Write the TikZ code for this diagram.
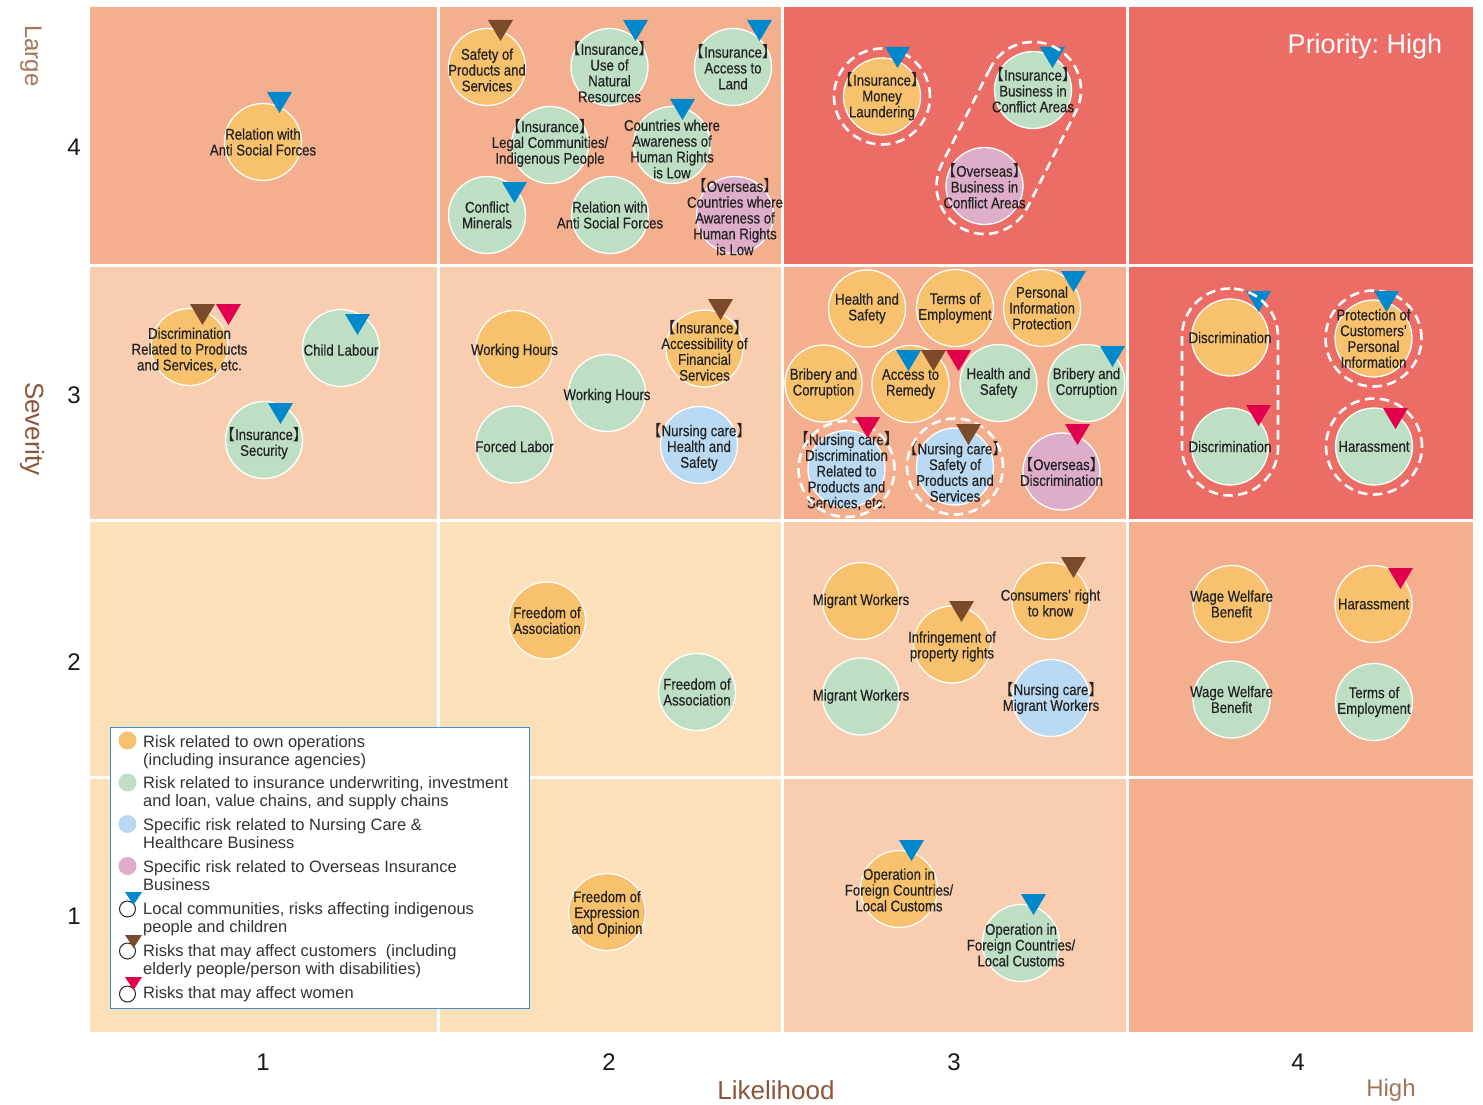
\documentclass[tikz,border=0pt]{standalone}
\usepackage{fontspec}
\usetikzlibrary{calc}
\setmainfont{Liberation Sans}
\newfontfamily\cond[FakeStretch=0.85,FakeBold=0.4]{Liberation Sans}
\newfontfamily\cjk{Noto Sans CJK JP}
\frenchspacing

% cell shades, from lightest to strongest
\definecolor{cellA}{HTML}{FBE0BA}
\definecolor{cellB}{HTML}{F8CDB0}
\definecolor{cellC}{HTML}{F4AF8F}
\definecolor{cellD}{HTML}{EB6D66}
% risk categories
\definecolor{cOwn}{HTML}{F7C16E}
\definecolor{cInv}{HTML}{BFDFC4}
\definecolor{cCare}{HTML}{BAD9F2}
\definecolor{cSea}{HTML}{DDADC9}
% affected groups
\definecolor{tBlue}{HTML}{0088CC}
\definecolor{tBrown}{HTML}{7B4A2A}
\definecolor{tRed}{HTML}{E0004D}
\definecolor{lgBorder}{HTML}{3A8FC8}
\definecolor{ink}{HTML}{222222}
\definecolor{lgink}{HTML}{333333}
\definecolor{axisBrown}{HTML}{8C5537}
\definecolor{axisLight}{HTML}{A37658}

% narrow lenticular brackets
\newcommand\lb{\makebox[0.42em][r]{\cjk 【}}
\newcommand\rb{\makebox[0.42em][l]{\cjk 】}}

% a risk bubble: [label options]{name}{style}{position}{text}
\newcommand\rk[5][]{\node[#3] (#2) at (#4) {}; \node[lbl,#1] (#2-t) at (#2.center) {#5};}
% marker triangle, given by its top-left corner
\newcommand\tri[3]{\fill[#1] (#2,#3) -- ++(25,0) -- ++(-12.5,21) -- cycle;}
\newcommand\ltri[3]{\fill[#1] (#2,#3) -- ++(17,0) -- ++(-8.5,13) -- cycle;}
\newcommand\ring[1]{\draw[ringline] (#1.center) circle[radius=48pt];}

\begin{document}
\begin{tikzpicture}[x=1pt,y=-1pt,
  risk/.style={circle, draw=white, line width=1.3pt, minimum size=77pt, inner sep=0pt},
  own/.style={risk, fill=cOwn},
  grn/.style={risk, fill=cInv},
  blu/.style={risk, fill=cCare},
  pnk/.style={risk, fill=cSea},
  lbl/.style={inner sep=0pt, align=center, text=ink, font=\cond\fontsize{15.5}{15.8}\selectfont},
  ringline/.style={draw=white, line width=2.6pt, dash pattern=on 9.5pt off 5.5pt},
  axnum/.style={font=\fontsize{24}{28}\selectfont, text=black!90},
  lgtext/.style={anchor=base west, inner sep=0pt, text=lgink, font=\fontsize{16.5}{18}\selectfont},
]
\useasboundingbox (0,0) rectangle (1483,1105);
\fill[white] (0,0) rectangle (1483,1105);

% ---- grid cells ----
% severity 4
\fill[cellC] (90,7) rectangle (437,264);
\fill[cellC] (440,7) rectangle (781,264);
\fill[cellD] (784,7) rectangle (1126,264);
\fill[cellD] (1129,7) rectangle (1473,264);
% severity 3
\fill[cellB] (90,267) rectangle (437,519);
\fill[cellB] (440,267) rectangle (781,519);
\fill[cellC] (784,267) rectangle (1126,519);
\fill[cellD] (1129,267) rectangle (1473,519);
% severity 2
\fill[cellA] (90,522) rectangle (437,776);
\fill[cellA] (440,522) rectangle (781,776);
\fill[cellB] (784,522) rectangle (1126,776);
\fill[cellC] (1129,522) rectangle (1473,776);
% severity 1
\fill[cellA] (90,779) rectangle (437,1032);
\fill[cellA] (440,779) rectangle (781,1032);
\fill[cellB] (784,779) rectangle (1126,1032);
\fill[cellC] (1129,779) rectangle (1473,1032);

\node[text=white, font=\fontsize{27}{31}\selectfont] (prio) at (1365,47) {Priority: High};

% ---- axes ----
\node[rotate=-90, text=axisLight, font=\fontsize{24}{28}\selectfont] (large) at (31,56) {Large};
\node[rotate=-90, text=axisBrown, font=\fontsize{26}{30}\selectfont] (sev) at (32,429) {Severity};
\node[axnum] (s4) at (74,147) {4};
\node[axnum] (s3) at (74,395) {3};
\node[axnum] (s2) at (74,662) {2};
\node[axnum] (s1) at (74,916) {1};
\node[axnum] (l1) at (263,1062) {1};
\node[axnum] (l2) at (609,1062) {2};
\node[axnum] (l3) at (954,1062) {3};
\node[axnum] (l4) at (1298,1062) {4};
\node[text=axisBrown, font=\fontsize{26}{30}\selectfont] (lik) at (776,1090) {Likelihood};
\node[text=axisLight, font=\fontsize{24}{28}\selectfont] (high) at (1391,1090) {High};

% ---- severity 4 ----
\rk{a1}{own}{263,142}{Relation with\\Anti Social Forces}
\tri{tBlue}{267}{92}

\rk[yshift=-3pt]{b1}{own}{487,67}{Safety of\\Products and\\Services}
\tri{tBrown}{488}{20}
\rk[yshift=-5pt]{b2}{grn}{609.5,67}{\lb Insurance\rb\\Use of\\Natural\\Resources}
\tri{tBlue}{623}{20}
\rk{b3}{grn}{733,67}{\lb Insurance\rb\\Access to\\Land}
\tri{tBlue}{747}{20}
\rk[yshift=2pt]{b4}{grn}{550,145}{\lb Insurance\rb\\Legal Communities/\\Indigenous People}
\rk[yshift=-4pt]{b5}{grn}{672,145}{Countries where\\Awareness of\\Human Rights\\is Low}
\tri{tBlue}{670}{99}
\rk{b6}{grn}{487,215}{Conflict\\Minerals}
\tri{tBlue}{502}{182}
\rk{b7}{grn}{610,215}{Relation with\\Anti Social Forces}
\rk[yshift=-2pt]{b8}{pnk}{735,215}{\lb Overseas\rb\\Countries where\\Awareness of\\Human Rights\\is Low}

\rk{c1}{own}{882,96.5}{\lb Insurance\rb\\Money\\Laundering}
\ring{c1}
\tri{tBlue}{885}{47}
\rk{c2}{grn}{1033,90}{\lb Insurance\rb\\Business in\\Conflict Areas}
\tri{tBlue}{1040}{47}
\rk{c3}{pnk}{984.5,186}{\lb Overseas\rb\\Business in\\Conflict Areas}
\node[ringline, rectangle, inner sep=0pt, minimum width=203.6pt, minimum height=96pt,
      rounded corners=48pt, rotate=63.2] (capc) at ($(c2)!0.5!(c3)$) {};

% ---- severity 3 ----
\rk[yshift=-3pt]{d1}{own}{189.5,347}{Discrimination\\Related to Products\\and Services, etc.}
\tri{tBrown}{190}{304}
\tri{tRed}{216}{304}
\rk[yshift=-2pt]{d2}{grn}{341,348}{Child Labour}
\tri{tBlue}{345}{314}
\rk[yshift=-3pt]{d3}{grn}{264,440}{\lb Insurance\rb\\Security}
\tri{tBlue}{268}{403}

\rk[yshift=-2pt]{e1}{own}{514.5,349}{Working Hours}
\rk[yshift=-3pt]{e2}{grn}{607,393}{Working Hours}
\rk[yshift=-2pt]{e3}{grn}{514.5,444.5}{Forced Labor}
\rk[yshift=-2pt]{e4}{own}{704.5,348.5}{\lb Insurance\rb\\Accessibility of\\Financial\\Services}
\tri{tBrown}{708}{299}
\rk[yshift=-2pt]{e5}{blu}{699,445}{\lb Nursing care\rb\\Health and\\Safety}

\rk{f1}{own}{867,308.5}{Health and\\Safety}
\rk{f2}{own}{955,308}{Terms of\\Employment}
\rk{f3}{own}{1042,308}{Personal\\Information\\Protection}
\tri{tBlue}{1061}{271}
\rk{f4}{own}{823.5,383.5}{Bribery and\\Corruption}
\rk{f5}{own}{910.5,384}{Access to\\Remedy}
\tri{tBlue}{896}{350}
\tri{tBrown}{921}{350}
\tri{tRed}{946}{350}
\rk{f6}{grn}{998.5,383}{Health and\\Safety}
\rk{f7}{grn}{1086.5,383}{Bribery and\\Corruption}
\tri{tBlue}{1100}{346}
\rk[yshift=-2pt]{f8}{blu}{846.5,469}{\lb Nursing care\rb\\Discrimination\\Related to\\Products and\\Services, etc.}
\ring{f8}
\tri{tRed}{855}{417}
\rk[yshift=-5pt]{f9}{blu}{955,466.5}{\lb Nursing care\rb\\Safety of\\Products and\\Services}
\ring{f9}
\tri{tBrown}{956}{424}
\rk{f10}{pnk}{1061.5,471.5}{\lb Overseas\rb\\Discrimination}
\tri{tRed}{1065}{424}

\rk{g1}{own}{1230,337.5}{Discrimination}
\tri{tBlue}{1246}{291}
\rk{g2}{grn}{1230,446.5}{Discrimination}
\tri{tRed}{1246}{405}
\node[ringline, rectangle, inner sep=0pt, minimum width=96pt, minimum height=207pt,
      rounded corners=48pt] (capg) at ($(g1)!0.5!(g2)$) {};
\rk{g3}{own}{1373.5,338.5}{Protection of\\Customers’\\Personal\\Information}
\ring{g3}
\tri{tBlue}{1374}{291}
\rk{g4}{grn}{1374,446.5}{Harassment}
\ring{g4}
\tri{tRed}{1383}{408}

% ---- severity 2 ----
\rk{h1}{own}{547,620.5}{Freedom of\\Association}
\rk{h2}{grn}{697,692}{Freedom of\\Association}

\rk{i1}{own}{861,601}{Migrant Workers}
\rk{i2}{grn}{861,696.5}{Migrant Workers}
\rk[yshift=-2pt]{i3}{own}{952,644.5}{Infringement of\\property rights}
\tri{tBrown}{949}{601}
\rk[yshift=-2pt]{i4}{own}{1050.5,601}{Consumers’ right\\to know}
\tri{tBrown}{1061}{557}
\rk{i5}{blu}{1051,698}{\lb Nursing care\rb\\Migrant Workers}

\rk{j1}{own}{1231.5,604}{Wage Welfare\\Benefit}
\rk{j2}{own}{1373.5,604}{Harassment}
\tri{tRed}{1388}{568}
\rk{j3}{grn}{1231.5,699.5}{Wage Welfare\\Benefit}
\rk{j4}{grn}{1374,702}{Terms of\\Employment}

% ---- severity 1 ----
\rk[yshift=-2pt]{k1}{own}{607,912}{Freedom of\\Expression\\and Opinion}
\rk[yshift=-1pt]{k2}{own}{899,889}{Operation in\\Foreign Countries/\\Local Customs}
\tri{tBlue}{899}{840}
\rk[yshift=-2pt]{k3}{grn}{1021,943}{Operation in\\Foreign Countries/\\Local Customs}
\tri{tBlue}{1021}{894}

% ---- legend ----
\node[draw=lgBorder, fill=white, line width=1.3pt, minimum width=419pt, minimum height=281pt,
      anchor=north west, inner sep=0pt] (legend) at (110,727) {};
\fill[cOwn] (127.5,740.5) circle[radius=9pt];
\fill[cInv] (127.5,782.5) circle[radius=9pt];
\fill[cCare] (127.5,824) circle[radius=9pt];
\fill[cSea] (127.5,866) circle[radius=9pt];
\draw[black!85, line width=1pt] (127.5,909) circle[radius=8pt];
\draw[black!85, line width=1pt] (127.5,951) circle[radius=8pt];
\draw[black!85, line width=1pt] (127.5,994) circle[radius=8pt];
\ltri{tBlue}{125}{892}
\ltri{tBrown}{125}{935}
\ltri{tRed}{125}{977}
\node[lgtext] (lg1a) at (143,747) {Risk related to own operations};
\node[lgtext] (lg1b) at (143,765) {(including insurance agencies)};
\node[lgtext] (lg2a) at (143,788.5) {Risk related to insurance underwriting, investment};
\node[lgtext] (lg2b) at (143,806.5) {and loan, value chains, and supply chains};
\node[lgtext] (lg3a) at (143,830) {Specific risk related to Nursing Care \&};
\node[lgtext] (lg3b) at (143,848) {Healthcare Business};
\node[lgtext] (lg4a) at (143,872) {Specific risk related to Overseas Insurance};
\node[lgtext] (lg4b) at (143,890) {Business};
\node[lgtext] (lg5a) at (143,914) {Local communities, risks affecting indigenous};
\node[lgtext] (lg5b) at (143,932) {people and children};
\node[lgtext] (lg6a) at (143,956) {Risks that may affect customers\ \ (including};
\node[lgtext] (lg6b) at (143,974) {elderly people/person with disabilities)};
\node[lgtext] (lg7a) at (143,998) {Risks that may affect women};
\end{tikzpicture}
\end{document}
